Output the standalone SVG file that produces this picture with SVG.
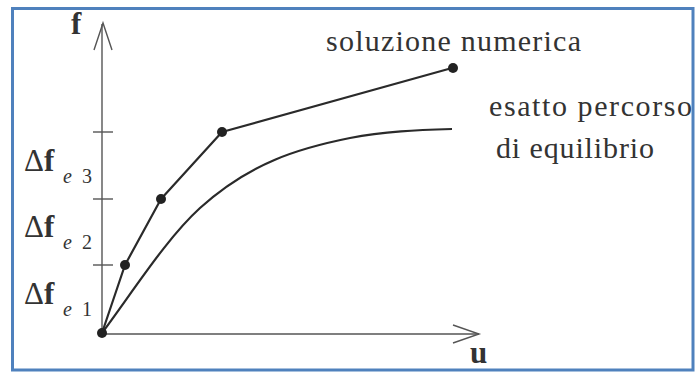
<svg xmlns="http://www.w3.org/2000/svg" width="695" height="372" viewBox="0 0 695 372">
<style>
text{font-family:Liberation Serif,serif;fill:#333}
.lbl{font-size:30px}
.big{font-size:31px}
.sub{font-size:20px}
.axis{stroke:#555;stroke-width:1.4;fill:none}
.curve{stroke:#2a2a2a;stroke-width:2.2;fill:none;stroke-linejoin:round}
.dot{fill:#222}
</style>
<rect x="0" y="0" width="695" height="372" fill="#ffffff"/>
<rect x="12.5" y="8.5" width="680.5" height="361.5" fill="#ffffff" stroke="#4f81bd" stroke-width="3"/>
<g id="connectors">
<g id="axes">
<line class="axis" x1="102" y1="333" x2="102" y2="24"/>
<polyline class="axis" points="94,50 103,23 112,50"/>
<line class="axis" x1="102" y1="334" x2="479" y2="334"/>
<polyline class="axis" points="453,325 479,334 453,343"/>
<line class="axis" x1="93" y1="132" x2="113" y2="132"/>
<line class="axis" x1="93" y1="199" x2="113" y2="199"/>
<line class="axis" x1="93" y1="265" x2="113" y2="265"/>
</g>
<path id="exact" class="curve" d="M102,333 C135,288.5 167,238 200,208 C250,162.5 300,148 350,138 C384,131.2 418,130 452,129"/>
<polyline id="numeric" class="curve" points="102,333 125,265 161,199 222,132 452,68"/>
</g>
<g id="points">
<circle class="dot" cx="102" cy="333" r="5"/>
<circle class="dot" cx="125" cy="265" r="5"/>
<circle class="dot" cx="161" cy="199" r="5"/>
<circle class="dot" cx="222" cy="132" r="5"/>
<circle class="dot" cx="453" cy="68" r="5"/>
</g>
<g font-family="Liberation Serif, serif">
<g id="label-f"><text class="big" x="71" y="34" font-weight="bold">f</text></g>
<g id="label-u"><text class="big" x="470" y="363" font-weight="bold">u</text></g>
<g id="label-df3"><text class="big" x="24" y="171">Δ<tspan font-weight="bold">f</tspan></text><text class="sub" y="183"><tspan x="63" font-style="italic">e</tspan><tspan x="82">3</tspan></text></g>
<g id="label-df2"><text class="big" x="24" y="237">Δ<tspan font-weight="bold">f</tspan></text><text class="sub" y="249"><tspan x="63" font-style="italic">e</tspan><tspan x="82">2</tspan></text></g>
<g id="label-df1"><text class="big" x="24" y="304">Δ<tspan font-weight="bold">f</tspan></text><text class="sub" y="316"><tspan x="63" font-style="italic">e</tspan><tspan x="82">1</tspan></text></g>
<g id="label-numeric"><text class="lbl" x="326" y="51" textLength="255">soluzione numerica</text></g>
<g id="label-exact"><text class="lbl" x="489" y="116" textLength="203">esatto percorso</text><text class="lbl" x="496" y="158" textLength="158">di equilibrio</text></g>
</g>
</svg>
